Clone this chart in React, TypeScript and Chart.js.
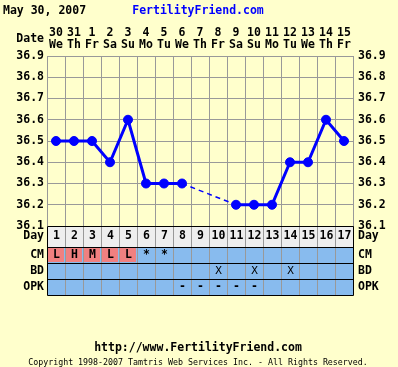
import React, { useEffect, useRef } from "react";
import { Chart, registerables } from "chart.js";

Chart.register(...registerables);

// ---- data ----
const chartDate = "May 30, 2007";
const siteName = "FertilityFriend.com";
const footerUrl = "http://www.FertilityFriend.com";
const footerCopy = "Copyright 1998-2007 Tamtris Web Services Inc. - All Rights Reserved.";

const cycleDays = ["1", "2", "3", "4", "5", "6", "7", "8", "9", "10", "11", "12", "13", "14", "15", "16", "17"];
const dates = ["30", "31", "1", "2", "3", "4", "5", "6", "7", "8", "9", "10", "11", "12", "13", "14", "15"];
const weekdays = ["We", "Th", "Fr", "Sa", "Su", "Mo", "Tu", "We", "Th", "Fr", "Sa", "Su", "Mo", "Tu", "We", "Th", "Fr"];
const temps: (number | null)[] = [36.5, 36.5, 36.5, 36.4, 36.6, 36.3, 36.3, 36.3, null, null, 36.2, 36.2, 36.2, 36.4, 36.4, 36.6, 36.5];

const cmMarks = ["L", "H", "M", "L", "L", "*", "*", "", "", "", "", "", "", "", "", "", ""];
const bdMarks = ["", "", "", "", "", "", "", "", "", "X", "", "X", "", "X", "", "", ""];
const opkMarks = ["", "", "", "", "", "", "", "-", "-", "-", "-", "-", "", "", "", "", ""];
const rowLabels = ["Day", "CM", "BD", "OPK"];

const tempMin = 36.1;
const tempMax = 36.9;
const tempStep = 0.1;

// ---- style ----
const FONT = '"DejaVu Sans Mono", monospace';
const BG = "#ffffcc";
const GRID = "#999999";
const BLUE = "#0000ff";
const CELL_BLUE = "#88bbee";
const DAY_ROW = "#eeeeee";
const SALMON = "#f08080";

const tablePlugin = {
  id: "ffTable",
  beforeDraw(chart: any) {
    const ctx = chart.ctx;
    ctx.save();
    ctx.fillStyle = BG;
    ctx.fillRect(0, 0, chart.width, chart.height);
    ctx.restore();
  },
  afterDraw(chart: any) {
    const ctx = chart.ctx as CanvasRenderingContext2D;
    const x = chart.scales.x;
    const area = chart.chartArea;
    const al = (p: number) => Math.round(p - 0.5) + 0.5;
    const half = (x.getPixelForValue(1) - x.getPixelForValue(0)) / 2;
    const left = area.left;
    const right = area.right;
    const rows = [area.bottom, area.bottom + 21, area.bottom + 37, area.bottom + 53, area.bottom + 69];
    ctx.save();

    // titles
    ctx.textBaseline = "middle";
    ctx.font = `bold 11.5px ${FONT}`;
    ctx.fillStyle = "#000";
    ctx.textAlign = "left";
    ctx.fillText(chartDate, 3, 11);
    ctx.fillStyle = BLUE;
    ctx.textAlign = "center";
    ctx.fillText(siteName, 198, 11);
    ctx.fillStyle = "#000";
    ctx.textAlign = "right";
    ctx.fillText("Date", left - 3, 39.5);

    // table fills
    ctx.fillStyle = DAY_ROW;
    ctx.fillRect(left, rows[0], right - left, rows[1] - rows[0]);
    ctx.fillStyle = CELL_BLUE;
    ctx.fillRect(left, rows[1], right - left, rows[4] - rows[1]);

    // salmon cells for CM
    for (let i = 0; i < cycleDays.length; i++) {
      const m = cmMarks[i];
      if (m && m !== "*") {
        const c = x.getPixelForValue(i);
        ctx.fillStyle = SALMON;
        ctx.fillRect(Math.round(c - half) + 1, rows[1] + 1, 2 * half - 2, rows[2] - rows[1] - 2);
      }
    }

    // vertical grid lines in the table
    ctx.strokeStyle = GRID;
    ctx.lineWidth = 1;
    for (let i = 1; i < cycleDays.length; i++) {
      const b = al(x.getPixelForValue(i) - half);
      ctx.beginPath();
      ctx.moveTo(b, rows[0]);
      ctx.lineTo(b, rows[4]);
      ctx.stroke();
    }

    // black lines
    ctx.strokeStyle = "#000";
    for (const r of rows) {
      ctx.beginPath();
      ctx.moveTo(al(left), al(r));
      ctx.lineTo(al(right), al(r));
      ctx.stroke();
    }
    for (const b of [left, right]) {
      ctx.beginPath();
      ctx.moveTo(al(b), al(rows[0]));
      ctx.lineTo(al(b), al(rows[4]));
      ctx.stroke();
    }

    // cell texts
    ctx.textAlign = "center";
    ctx.fillStyle = "#000";
    for (let i = 0; i < cycleDays.length; i++) {
      const c = x.getPixelForValue(i) + 0.5;
      ctx.font = `bold 11.5px ${FONT}`;
      ctx.fillText(cycleDays[i], c, (rows[0] + rows[1]) / 2);
      if (cmMarks[i]) ctx.fillText(cmMarks[i], c, (rows[1] + rows[2]) / 2);
      if (opkMarks[i]) ctx.fillText(opkMarks[i], c, (rows[3] + rows[4]) / 2);
      ctx.font = `11px ${FONT}`;
      if (bdMarks[i]) ctx.fillText(bdMarks[i], c, (rows[2] + rows[3]) / 2);
    }

    // row labels
    ctx.font = `bold 11.5px ${FONT}`;
    for (let k = 0; k < rowLabels.length; k++) {
      const y = (rows[k] + rows[k + 1]) / 2;
      ctx.textAlign = "right";
      ctx.fillText(rowLabels[k], left - 3, y);
      ctx.textAlign = "left";
      ctx.fillText(rowLabels[k], right + 5, y);
    }

    // footer
    ctx.textAlign = "center";
    ctx.font = `bold 11.5px ${FONT}`;
    ctx.fillText(footerUrl, 198, 348);
    ctx.font = `8.3px ${FONT}`;
    ctx.fillText(footerCopy, 198, 362.5);

    ctx.restore();
  },
};

const tickFont = { family: FONT, size: 11.5, weight: "bold" as const, lineHeight: 12 / 11.5 };
const fmt = (v: any) => Number(v).toFixed(1);

export default function App() {
  const ref = useRef<HTMLCanvasElement | null>(null);
  useEffect(() => {
    if (!ref.current) return;
    const chart = new Chart(ref.current, {
      type: "line",
      data: {
        labels: cycleDays,
        datasets: [
          {
            data: temps,
            borderColor: BLUE,
            backgroundColor: BLUE,
            borderWidth: 3,
            pointRadius: 4.5,
            pointBorderWidth: 1,
            pointBackgroundColor: BLUE,
            pointBorderColor: BLUE,
            spanGaps: true,
            tension: 0,
            segment: {
              borderDash: (ctx: any) => (ctx.p0.skip || ctx.p1.skip ? [5, 4] : undefined),
              borderWidth: (ctx: any) => (ctx.p0.skip || ctx.p1.skip ? 1.5 : undefined),
            },
          } as any,
        ],
      },
      options: {
        responsive: false,
        animation: false,
        devicePixelRatio: 1,
        layout: { padding: { left: 0, right: 0, top: 0, bottom: 141 } },
        plugins: { legend: { display: false }, tooltip: { enabled: false }, title: { display: false } },
        scales: {
          x: {
            type: "category",
            position: "top",
            offset: true,
            grid: { offset: true, color: GRID, drawTicks: false, lineWidth: 1 },
            border: { color: GRID },
            ticks: {
              autoSkip: false,
              maxRotation: 0,
              minRotation: 0,
              padding: 5,
              color: "#000",
              font: tickFont,
              callback: (_v: any, i: number) => [dates[i], weekdays[i]],
            },
            afterFit: (s: any) => {
              s.height = 56;
            },
          },
          y: {
            position: "left",
            min: tempMin,
            max: tempMax,
            ticks: { stepSize: tempStep, padding: 3, color: "#000", font: tickFont, callback: fmt },
            grid: { color: GRID, drawTicks: false },
            border: { color: GRID },
            afterFit: (s: any) => {
              s.width = 47;
            },
          },
          y2: {
            position: "right",
            min: tempMin,
            max: tempMax,
            ticks: { stepSize: tempStep, padding: 5, color: "#000", font: tickFont, callback: fmt },
            grid: { display: false, drawTicks: false },
            border: { color: GRID },
            afterFit: (s: any) => {
              s.width = 45;
            },
          },
        },
      } as any,
      plugins: [tablePlugin],
    });
    return () => chart.destroy();
  }, []);
  return (
    <div style={{ position: "fixed", left: 0, top: 0, width: 398, height: 367, background: BG }}>
      <canvas ref={ref} width={398} height={367} style={{ display: "block", width: 398, height: 367 }} />
    </div>
  );
}
